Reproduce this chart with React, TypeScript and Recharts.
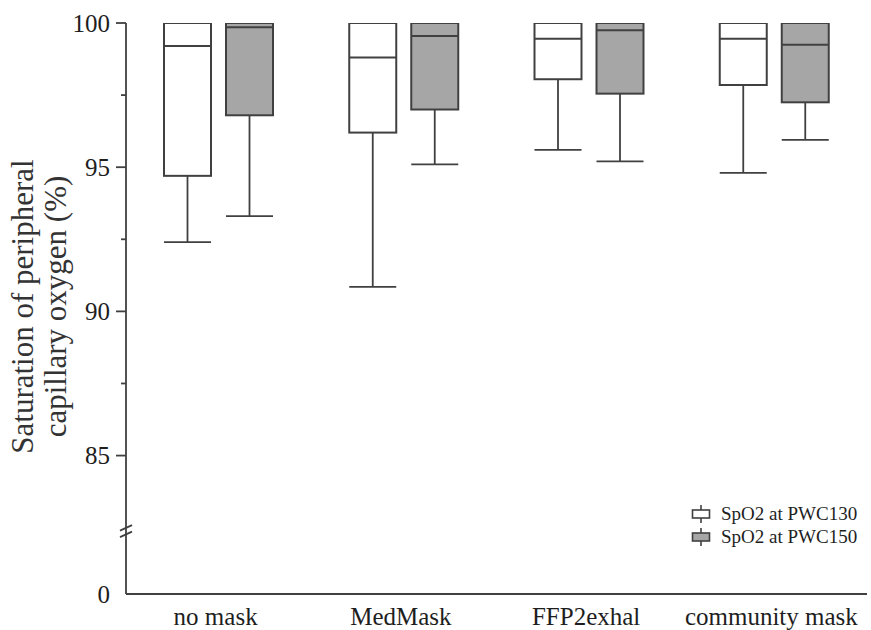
import { BarChart, Bar, XAxis, YAxis, ReferenceLine, Label } from 'recharts'

const categories = ['no mask', 'MedMask', 'FFP2exhal', 'community mask']

// SpO2 at PWC130
const pwc130Min = [92.4, 90.85, 95.6, 94.8]
const pwc130Q1 = [94.7, 96.2, 98.05, 97.85]
const pwc130Median = [99.2, 98.8, 99.45, 99.45]
const pwc130Q3 = [100, 100, 100, 100]
const pwc130Max = [100, 100, 100, 100]

// SpO2 at PWC150
const pwc150Min = [93.3, 95.1, 95.2, 95.95]
const pwc150Q1 = [96.8, 97.0, 97.55, 97.25]
const pwc150Median = [99.85, 99.55, 99.75, 99.25]
const pwc150Q3 = [100, 100, 100, 100]
const pwc150Max = [100, 100, 100, 100]

// broken axis: the "0" tick sits at the bottom of the visible range
const yTicks = [80.2, 85, 87.5, 90, 92.5, 95, 97.5, 100]
const yTickLabels = ['0', '85', '', '90', '', '95', '', '100']
const axisBreakAt = 82.38

const seriesNames = ['SpO2 at PWC130', 'SpO2 at PWC150']
const seriesFills = ['#ffffff', '#a6a6a6']

const data = categories.map((name, i) => ({
  name,
  pwc130: { min: pwc130Min[i], q1: pwc130Q1[i], median: pwc130Median[i], q3: pwc130Q3[i], max: pwc130Max[i] },
  pwc150: { min: pwc150Min[i], q1: pwc150Q1[i], median: pwc150Median[i], q3: pwc150Q3[i], max: pwc150Max[i] },
}))

const INK = '#404040'
const TEXT = '#1e1e1e'
const SERIF = "'Liberation Serif', 'Times New Roman', serif"

const makeBox = (key: 'pwc130' | 'pwc150', fill: string) => (props: any) => {
  const { x, y, width, height, payload } = props
  const s = payload[key]
  const top = Math.min(y, y + height)
  const h = Math.abs(height)
  const span = s.max - s.min
  const toY = (v: number) => top + (h * (s.max - v)) / span
  const cx = x + width / 2
  const yMin = toY(s.min)
  const yQ1 = toY(s.q1)
  const yMed = toY(s.median)
  const yQ3 = toY(s.q3)
  const yMax = toY(s.max)
  return (
    <g>
      <line x1={cx} x2={cx} y1={yQ1} y2={yMin} stroke={INK} strokeWidth={1.8} />
      <line x1={x} x2={x + width} y1={yMin} y2={yMin} stroke={INK} strokeWidth={1.8} />
      {s.max > s.q3 && (
        <>
          <line x1={cx} x2={cx} y1={yQ3} y2={yMax} stroke={INK} strokeWidth={1.8} />
          <line x1={x} x2={x + width} y1={yMax} y2={yMax} stroke={INK} strokeWidth={1.8} />
        </>
      )}
      <rect x={x} y={yQ3} width={width} height={yQ1 - yQ3} fill={fill} stroke={INK} strokeWidth={2} />
      <line x1={x} x2={x + width} y1={yMed} y2={yMed} stroke={INK} strokeWidth={2} />
    </g>
  )
}

const YTick = ({ x, y, payload, index }: any) => {
  const label = yTickLabels[index]
  const major = label !== ''
  const isZero = payload.value === yTicks[0]
  return (
    <g>
      {!isZero && (
        <line x1={major ? x + 6 : x + 11} x2={x + 16} y1={y} y2={y} stroke={INK} strokeWidth={1.8} />
      )}
      {major && (
        <text x={x} y={y} dy="0.35em" textAnchor="end" fontSize={25} fontFamily={SERIF} fill={TEXT}>
          {label}
        </text>
      )}
    </g>
  )
}

const XTick = ({ x, y, payload }: any) => (
  <text x={x - 3} y={y} dy={31} textAnchor="middle" fontSize={25} fontFamily={SERIF} fill={TEXT}>
    {payload.value}
  </text>
)

const AxisBreak = ({ x1, y1 }: any) => (
  <g>
    <rect x={x1 - 4} y={y1 - 2.5} width={8} height={5} fill="#fff" />
    <line x1={x1 - 6} y1={y1 - 0.5} x2={x1 + 6} y2={y1 - 6} stroke={INK} strokeWidth={1.8} />
    <line x1={x1 - 6} y1={y1 + 6} x2={x1 + 6} y2={y1 + 0.5} stroke={INK} strokeWidth={1.8} />
  </g>
)

const YTitle = ({ viewBox }: any) => {
  const cy = viewBox.y + viewBox.height / 2 - 2
  const lines = ['Saturation of peripheral', 'capillary oxygen (%)']
  const xs = [33, 66]
  return (
    <g>
      {lines.map((t, i) => (
        <text
          key={t}
          x={xs[i]}
          y={cy}
          transform={`rotate(-90 ${xs[i]} ${cy})`}
          textAnchor="middle"
          fontSize={31}
          fontFamily={SERIF}
          fill="#333"
        >
          {t}
        </text>
      ))}
    </g>
  )
}

const LegendBox = ({ fill }: { fill: string }) => (
  <svg width={20} height={20} style={{ marginRight: 10 }}>
    <line x1={10} x2={10} y1={1} y2={19} stroke={INK} strokeWidth={1.6} />
    <rect x={1.5} y={6} width={17} height={8} fill={fill} stroke={INK} strokeWidth={1.6} />
  </svg>
)

const BoxLegend = () => (
  <div
    style={{
      position: 'absolute',
      left: 691,
      top: 502,
      fontFamily: SERIF,
      fontSize: 19,
      color: TEXT,
      lineHeight: '23px',
    }}
  >
    {seriesNames.map((n, i) => (
      <div key={n} style={{ display: 'flex', alignItems: 'center' }}>
        <LegendBox fill={seriesFills[i]} />
        <span>{n}</span>
      </div>
    ))}
  </div>
)

export default function App() {
  return (
    <div style={{ position: 'absolute', left: 0, top: 0, width: 871, height: 630, background: '#fff' }}>
      <BarChart
        width={871}
        height={630}
        data={data}
        margin={{ top: 23, right: 4, left: 0, bottom: 0 }}
        barSize={47}
        barGap={15}
      >
        <XAxis
          dataKey="name"
          height={36}
          tickLine={false}
          tickSize={0}
          tickMargin={0}
          axisLine={{ stroke: INK, strokeWidth: 1.8 }}
          tick={<XTick />}
          interval={0}
        />
        <YAxis
          type="number"
          width={126}
          domain={[yTicks[0], 100]}
          ticks={yTicks}
          interval={0}
          allowDataOverflow
          tickLine={false}
          tickSize={10}
          tickMargin={6}
          axisLine={{ stroke: INK, strokeWidth: 1.8 }}
          tick={<YTick />}
        >
          <Label content={<YTitle />} />
        </YAxis>
        <Bar
          dataKey={(d: any) => [d.pwc130.min, d.pwc130.max]}
          name={seriesNames[0]}
          fill={seriesFills[0]}
          shape={makeBox('pwc130', seriesFills[0])}
          isAnimationActive={false}
        />
        <Bar
          dataKey={(d: any) => [d.pwc150.min, d.pwc150.max]}
          name={seriesNames[1]}
          fill={seriesFills[1]}
          shape={makeBox('pwc150', seriesFills[1])}
          isAnimationActive={false}
        />
        <ReferenceLine y={axisBreakAt} stroke="none" ifOverflow="visible" shape={<AxisBreak />} />
      </BarChart>
      <BoxLegend />
    </div>
  )
}
